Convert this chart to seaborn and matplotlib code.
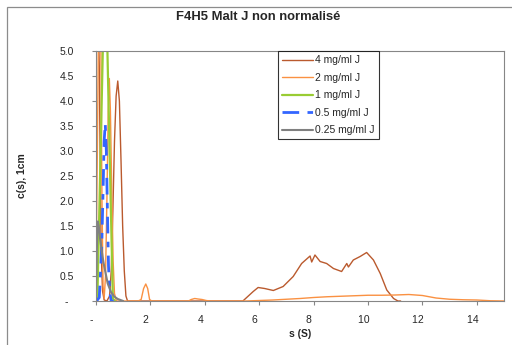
import numpy as np
import pandas as pd
import matplotlib
matplotlib.use('Agg')
import matplotlib.pyplot as plt
import seaborn as sns
from matplotlib.patches import Rectangle

# =========================
# Data
# =========================
s_4 = [0.0, 0.03, 0.06, 0.09, 0.12, 0.15, 0.19, 0.24, 0.30, 0.40, 0.50, 0.56, 0.62, 0.68,
       0.74, 0.80, 0.86, 0.92, 0.98, 1.04, 1.10, 1.16, 5.40, 5.78, 5.96, 6.20, 6.52, 6.88,
       7.25, 7.56, 7.87, 7.93, 8.05, 8.24, 8.48, 8.73, 9.03, 9.22, 9.28, 9.46, 9.71, 9.95,
       10.20, 10.45, 10.69, 10.94, 11.10, 11.20]
c_4 = [6.0, 9.0, 8.0, 5.5, 4.7, 3.0, 1.0, 0.2, 0.02, 0.0, 0.1, 0.6, 1.8, 3.2,
       4.1, 4.4, 4.0, 2.8, 1.5, 0.6, 0.1, 0.0, 0.0, 0.19, 0.27, 0.25, 0.21, 0.29,
       0.49, 0.75, 0.90, 0.78, 0.92, 0.79, 0.75, 0.65, 0.59, 0.75, 0.68, 0.82, 0.89, 0.97,
       0.82, 0.55, 0.22, 0.05, 0.0, 0.0]

s_2 = [0.0, 0.05, 0.10, 0.14, 0.18, 0.22, 0.26, 0.30, 0.35, 0.40, 0.45, 0.49, 0.53, 0.58,
       0.63, 0.68, 0.75, 1.55, 1.66, 1.75, 1.83, 1.90, 1.97, 2.05, 3.40, 3.50, 3.63, 3.75,
       3.90, 4.05, 4.20, 5.50, 6.0, 6.5, 7.0, 7.5, 8.0, 8.5, 9.0, 9.5, 10.0, 10.5, 11.0,
       11.5, 12.0, 12.5, 13.0, 13.5, 14.0, 14.5, 15.0]
c_2 = [0.5, 3.0, 6.0, 6.5, 5.0, 2.0, 0.3, 0.05, 0.5, 2.0, 3.8, 4.45, 3.8, 2.2,
       0.8, 0.15, 0.0, 0.0, 0.03, 0.25, 0.34, 0.25, 0.03, 0.0, 0.0, 0.03, 0.05, 0.04,
       0.03, 0.01, 0.0, 0.0, 0.01, 0.02, 0.035, 0.05, 0.07, 0.085, 0.095, 0.105, 0.115, 0.115, 0.12,
       0.13, 0.11, 0.06, 0.035, 0.025, 0.02, 0.005, 0.0]

s_1 = [0.0, 0.05, 0.10, 0.15, 0.20, 0.25, 0.30, 0.34, 0.38, 0.42, 0.47, 0.52, 0.57, 0.62, 0.70]
c_1 = [0.0, 0.05, 1.25, 2.5, 3.75, 5.0, 6.8, 7.5, 6.8, 5.0, 3.75, 2.5, 1.25, 0.05, 0.0]

s_05 = [0.0, 0.05, 0.12, 0.16, 0.21, 0.26, 0.30, 0.34, 0.38, 0.42, 0.46, 0.50, 0.56, 0.65]
c_05 = [0.0, 0.02, 0.07, 0.5, 1.1, 2.2, 3.2, 3.55, 3.0, 1.8, 0.7, 0.2, 0.0, 0.0]

s_025 = [0.0, 0.03, 0.06, 0.10, 0.15, 0.20, 0.24, 0.30, 0.43, 0.55, 0.67, 0.80, 0.90, 1.0]
c_025 = [0.2, 1.0, 1.59, 1.5, 1.25, 1.05, 0.89, 0.7, 0.35, 0.18, 0.09, 0.04, 0.02, 0.0]

labels = ['4 mg/ml J', '2 mg/ml J', '1 mg/ml J', '0.5 mg/ml J', '0.25 mg/ml J']
colors = ['#BA5A2E', '#FA9142', '#99CC33', '#3366FF', '#808080']
widths = [1.0, 1.0, 1.6, 2.0, 1.5]
dashes = ['-', '-', '-', (0, (6, 3, 2, 3)), '-']
series = [(s_4, c_4), (s_2, c_2), (s_1, c_1), (s_05, c_05), (s_025, c_025)]

x_ticks = [0, 2, 4, 6, 8, 10, 12, 14]
y_ticks = [0, 0.5, 1.0, 1.5, 2.0, 2.5, 3.0, 3.5, 4.0, 4.5, 5.0]

sns.set_theme(style='white')
plt.rcParams['font.family'] = ['Liberation Sans', 'DejaVu Sans']

fig = plt.figure(figsize=(5.12, 3.45), dpi=100)
ax = fig.add_axes([96 / 512, 1 - 301 / 345, 408 / 512, 250 / 345])

# outer chart frame (cropped at right/bottom like the reference)
fig.add_artist(Rectangle((7 / 512, -0.2), 1.2, 1 - 7 / 345 + 0.2, transform=fig.transFigure,
                         fill=False, edgecolor='#8C8C8C', linewidth=0.9))

for (sx, cy), lab, col, lw, ls in zip(series, labels, colors, widths, dashes):
    sns.lineplot(x=sx, y=cy, ax=ax, color=col, linewidth=lw, linestyle=ls,
                 label=lab, estimator=None, sort=False)

ax.set_xlim(0, 15)
ax.set_ylim(0, 5)
ax.set_xticks(x_ticks)
ax.set_xticklabels(['-   ' if v == 0 else f'{v}   ' for v in x_ticks], fontsize=7.5)
ax.set_yticks(y_ticks)
ax.set_yticklabels(['-  ' if v == 0 else f'{v:.1f}' for v in y_ticks], fontsize=7.5)
ax.tick_params(axis='x', direction='out', length=3, width=0.8, color='#868686', pad=7)
ax.tick_params(axis='y', direction='out', length=3, width=0.8, color='#868686', pad=13)
ax.tick_params(left=True, bottom=True)
for sp in ax.spines.values():
    sp.set_color('#868686')
    sp.set_linewidth(0.8)

ax.set_xlabel('s (S)', fontsize=7.5, fontweight='bold', labelpad=3)
ax.set_ylabel('c(s), 1cm', fontsize=7.5, fontweight='bold', labelpad=23)
fig.text(258 / 512, 1 - 17 / 345, 'F4H5 Malt J non normalisé', ha='center', va='center',
         fontsize=9.4, fontweight='bold')

leg = ax.legend(loc='upper left', bbox_to_anchor=((278 - 96) / 408, 1.0), borderaxespad=0,
                fontsize=7.5, frameon=True, fancybox=False, handlelength=3.0,
                labelspacing=0.72, handletextpad=0.15, borderpad=0.4)
leg.get_frame().set_edgecolor('black')
leg.get_frame().set_linewidth(0.8)

fig.savefig('out.png', dpi=100)
